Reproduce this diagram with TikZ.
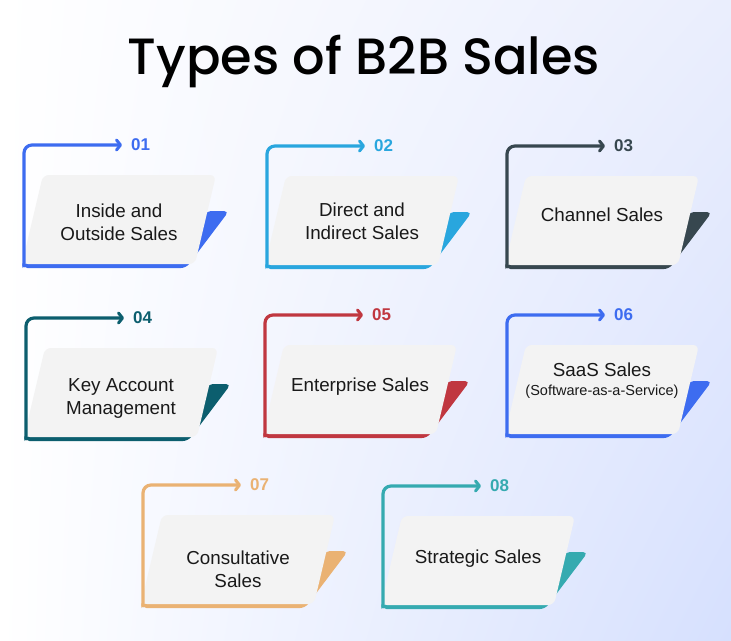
\documentclass[tikz,border=0pt]{standalone}
\usepackage{fontspec}
\setmainfont{Liberation Sans}
\newfontfamily\titlefont{Poppins Medium}
\usetikzlibrary{arrows.meta,shadings}
\definecolor{bluecard}{RGB}{61,108,240}
\definecolor{skycard}{RGB}{41,166,222}
\definecolor{slatecard}{RGB}{55,71,79}
\definecolor{tealdark}{RGB}{12,94,110}
\definecolor{redcard}{RGB}{192,55,64}
\definecolor{orangecard}{RGB}{234,178,115}
\definecolor{tealcard}{RGB}{53,170,176}
\definecolor{cardgray}{RGB}{243,243,243}
\definecolor{bgright}{RGB}{214,224,254}
\definecolor{bgtopright}{RGB}{234,238,253}
\tikzset{
  arrowline/.style={line width=3.2pt,rounded corners=8pt,line cap=round,
    -{Straight Barb[length=4pt,width=10pt,line width=3pt,round]},shorten >=9pt},
  numlabel/.style={anchor=west,inner sep=0pt,font=\fontsize{17}{17}\selectfont\bfseries},
  cardtext/.style={align=center,inner sep=0pt,text=black!90,font=\fontsize{18.8}{23}\selectfont},
}
\begin{document}
\begin{tikzpicture}[x=1pt,y=-1pt]
  \useasboundingbox (0,0) rectangle (731,640);
  \shade[upper left=white,lower left=white,upper right=bgtopright,lower right=bgright]
    (0,0) rectangle (731,640);
  \node[font=\titlefont\fontsize{51}{51}\selectfont] (title) at (364,61) {Types of B2B Sales};
  % the eight cards
  \foreach \ox/\oy/\ty/\col/\n/\txt in {
      24/266/44/bluecard/01/{Inside and\\Outside Sales},
      267/267/46/skycard/02/{Direct and\\Indirect Sales},
      507/267/52/slatecard/03/{Channel Sales},
      26/439/41/tealdark/04/{Key Account\\Management},
      265/436/49/redcard/05/{Enterprise Sales},
      507/436/55/bluecard/06/{SaaS Sales\\[-4pt]{\fontsize{14.5}{17}\selectfont(Software-as-a-Service)}},
      143/606/37/orangecard/07/{Consultative\\Sales},
      383/607/48/tealcard/08/{Strategic Sales}} {
    \coordinate (base\n) at (\ox,\oy);
    \fill[\col,rounded corners=5pt] (\ox-1.6,\oy+2) -- (\ox+162,\oy+2) -- (\ox+205,\oy-55)
      -- (\ox+183,\oy-55) -- (\ox+140,\oy-3) -- (\ox-1.6,\oy-3) -- cycle;
    \fill[cardgray,rounded corners=6pt] (\ox+19,\oy-91) -- (\ox+192,\oy-91) -- (\ox+171,\oy-2)
      -- (\ox-2,\oy-2) -- cycle;
    \node[numlabel,text=\col] (num\n) at (\ox+107,\oy-121) {\n};
    \draw[arrowline,\col] (base\n) |- (num\n.west);
    \node[cardtext] (card\n) at (\ox+95,\oy-\ty) {\txt};
  }
\end{tikzpicture}
\end{document}
